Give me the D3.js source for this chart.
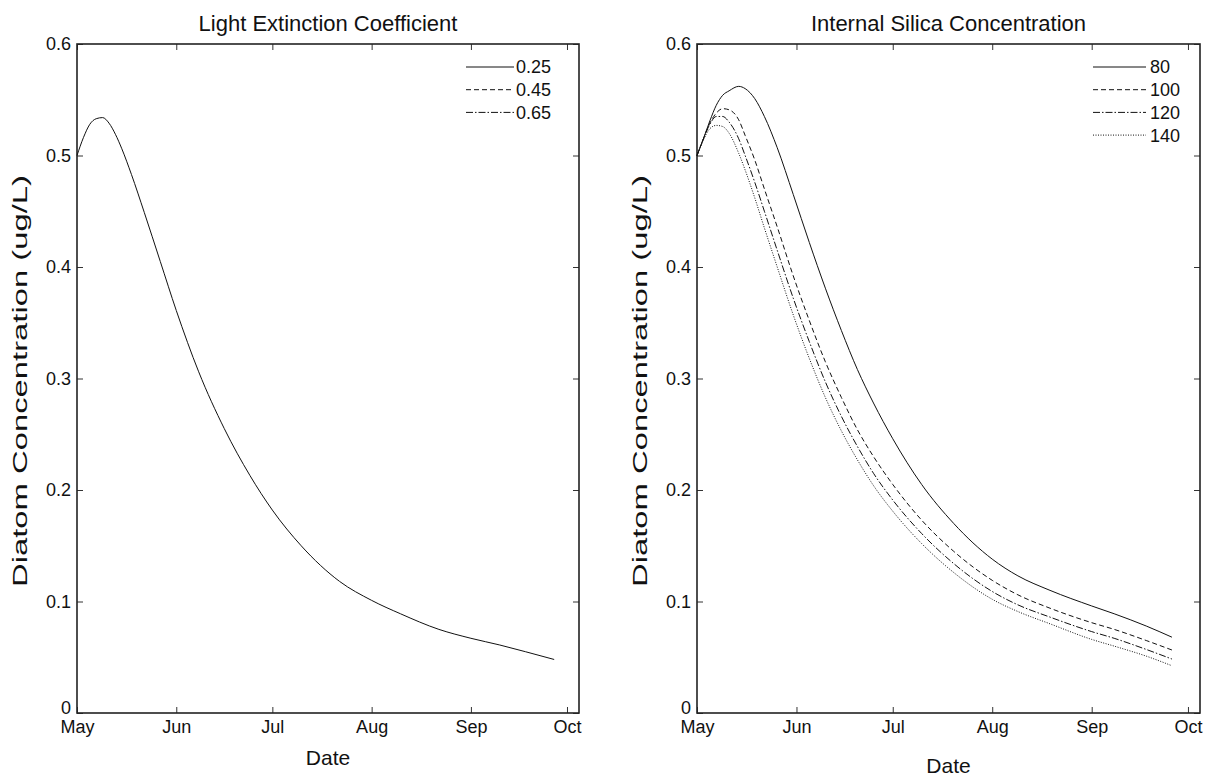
<!DOCTYPE html>
<html><head><meta charset="utf-8">
<script src="https://cdn.jsdelivr.net/npm/d3@7"></script>
<style>
body{margin:0;background:#fff;}
svg{display:block;font-family:"Liberation Sans",Arial,Helvetica,sans-serif;}
</style></head>
<body><svg id="chart" width="1211" height="776"></svg>
<script>
// ---------- data ----------
const monthTicks = ["May","Jun","Jul","Aug","Sep","Oct"];
const yTicks = [0,0.1,0.2,0.3,0.4,0.5,0.6];

// Left panel: Light Extinction Coefficient (days since May 1)
const leftDays = [0,2,4,6,8,10,12,14,17,21,26,31,38,46,54,61,70,82,92,101,113,123,132,140,149];
const leftK025 = [0.500,0.516,0.528,0.533,0.534,0.529,0.519,0.506,0.483,0.449,0.405,0.361,0.306,0.255,0.213,0.182,0.150,0.118,0.101,0.089,0.075,0.067,0.061,0.055,0.048];
const leftLegend = ["0.25","0.45","0.65"];

// Right panel: Internal Silica Concentration (days since May 1)
const rightDays = [0,2,4,6,8,10,13,15,18,21,25,30,35,40,45,50,55,61,70,80,92,100,110,123,130,140,148];
const si80  = [0.500,0.515,0.531,0.545,0.554,0.558,0.562,0.560,0.551,0.535,0.507,0.465,0.422,0.381,0.343,0.308,0.278,0.246,0.205,0.170,0.138,0.123,0.110,0.096,0.089,0.078,0.068];
const si100 = [0.500,0.515,0.529,0.538,0.542,0.541,0.532,0.518,0.496,0.470,0.436,0.392,0.352,0.315,0.283,0.254,0.230,0.205,0.173,0.145,0.119,0.106,0.094,0.081,0.075,0.065,0.0565];
const si120 = [0.500,0.515,0.528,0.535,0.535,0.530,0.515,0.500,0.476,0.450,0.415,0.372,0.333,0.297,0.266,0.239,0.215,0.191,0.161,0.134,0.109,0.097,0.086,0.073,0.067,0.057,0.0484];
const si140 = [0.500,0.514,0.524,0.527,0.526,0.520,0.502,0.487,0.462,0.435,0.400,0.357,0.318,0.283,0.253,0.227,0.204,0.181,0.152,0.126,0.102,0.091,0.080,0.066,0.060,0.051,0.0424];
const rightLegend = ["80","100","120","140"];

// ---------- drawing ----------
const svg = d3.select("#chart");
const start = new Date(2000,4,1);
const toDate = d => d3.timeDay.offset(start, d);
const endDate = new Date(2000,9,4,18);
const tickDates = monthTicks.map((m,i)=> new Date(2000,4+i,1));
const dashes = ["none","5,3","7,2,1.5,2","1,1.5"];

function panel(cfg){
  const x = d3.scaleTime().domain([start,endDate]).range([cfg.left,cfg.right]);
  const y = d3.scaleLinear().domain([0,0.6]).range([713,44]);
  const g = svg.append("g");
  const tl = 6;
  const xb = d3.axisBottom(x).tickValues(tickDates).tickSize(-tl).tickFormat((d,i)=>monthTicks[i]).tickPadding(7);
  const gx = g.append("g").attr("transform","translate(0,713)").call(xb);
  const xt = d3.axisTop(x).tickValues(tickDates).tickSize(-tl).tickFormat("");
  const gxt = g.append("g").attr("transform","translate(0,44)").call(xt);
  const yl = d3.axisLeft(y).tickValues(yTicks).tickSize(-tl).tickFormat(d=> d===0?"0":d3.format(".1f")(d)).tickPadding(6);
  const gy = g.append("g").attr("transform",`translate(${cfg.left},0)`).call(yl);
  const yr = d3.axisRight(y).tickValues(yTicks).tickSize(-tl).tickFormat("");
  const gyr = g.append("g").attr("transform",`translate(${cfg.right},0)`).call(yr);
  [gx,gxt,gy,gyr].forEach(a=>{
    a.select(".domain").remove();
    a.selectAll("line").attr("stroke","#333").attr("stroke-width",1);
    a.selectAll("text").attr("fill","#111").attr("font-size",18).attr("font-family",'"Liberation Sans",Arial,sans-serif');
  });
  gx.selectAll("text").attr("dy","0.71em");
  gy.selectAll("text").filter(d=>d===0).attr("dy","0.05em");
  g.append("rect").attr("x",cfg.left).attr("y",44).attr("width",cfg.right-cfg.left).attr("height",713-44)
    .attr("fill","none").attr("stroke","#222").attr("stroke-width",1.6);
  const line = d3.line().x(d=>x(toDate(d[0]))).y(d=>y(d[1])).curve(d3.curveMonotoneX);
  cfg.series.forEach((s,i)=>{
    g.append("path").datum(cfg.days.map((d,j)=>[d,s[j]]))
      .attr("d",line).attr("fill","none").attr("stroke","#111").attr("stroke-width",1)
      .attr("stroke-dasharray",dashes[i]);
  });
  cfg.legend.forEach((lab,i)=>{
    const ly = 67 + i*22.7;
    g.append("line").attr("x1",cfg.right-cfg.lg[0]).attr("x2",cfg.right-cfg.lg[1]).attr("y1",ly).attr("y2",ly)
      .attr("stroke","#111").attr("stroke-width",1).attr("stroke-dasharray",dashes[i]);
    g.append("text").attr("x",cfg.right-cfg.lg[2]).attr("y",ly).attr("dy","0.36em").attr("font-size",18).attr("fill","#111").text(lab);
  });
  const cx = (cfg.left+cfg.right)/2;
  g.append("text").attr("x",cx).attr("y",31).attr("text-anchor","middle").attr("font-size",22).attr("fill","#111").text(cfg.title);
  g.append("text").attr("x",cx).attr("y",cfg.dateY).attr("text-anchor","middle").attr("font-size",21).attr("fill","#111").text("Date");
  g.append("text").attr("transform",`translate(${cfg.ylabX},381) rotate(-90)`).attr("text-anchor","middle")
    .attr("font-size",21).attr("fill","#111").attr("textLength",412).attr("lengthAdjust","spacingAndGlyphs")
    .text("Diatom Concentration (ug/L)");
}

panel({left:77,right:579,title:"Light Extinction Coefficient",days:leftDays,series:[leftK025],legend:leftLegend,dateY:765,ylabX:27,lg:[113,65,63]});
panel({left:697,right:1200,title:"Internal Silica Concentration",days:rightDays,series:[si80,si100,si120,si140],legend:rightLegend,dateY:773,ylabX:647,lg:[107,54,50]});
</script></body></html>
